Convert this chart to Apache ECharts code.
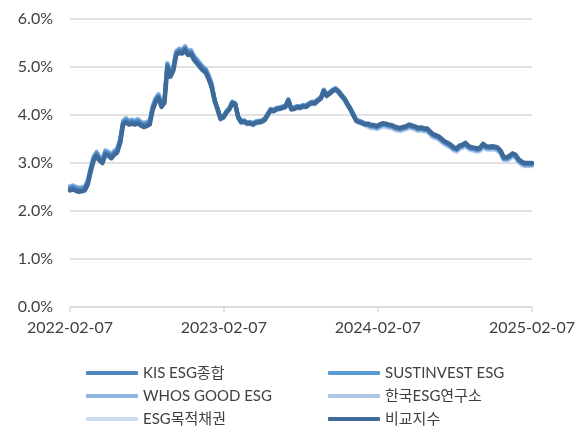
<!DOCTYPE html>
<html>
<head>
<meta charset="utf-8">
<title>ESG chart</title>
<script src="https://cdn.jsdelivr.net/npm/echarts@6/dist/echarts.min.js"></script>
<style>
    html, body { margin: 0; padding: 0; background: #ffffff; }
    #chart { width: 586px; height: 432px; }
</style>
</head>
<body>
<div id="chart"></div>
<script>
    "use strict";

    var startDate = [2022, 1, 7];
    var endDate = [2025, 1, 7];
    var tickDates = ["2022-02-07", "2023-02-07", "2024-02-07", "2025-02-07"];

    var seriesNames = ["KIS ESG종합", "SUSTINVEST ESG", "WHOS GOOD ESG", "한국ESG연구소", "ESG목적채권", "비교지수"];
    var seriesColors = ["#4f86c0", "#5b9bd5", "#8fb4e0", "#afc7e8", "#cbdaef", "#3d6a99"];

    // weekly values (%), last one is 2025-02-07
    var kis = [
        2.47,2.49,2.46,2.44,2.45,2.47,2.59,2.86,3.09,3.19,
        3.09,3.04,3.22,3.19,3.14,3.21,3.26,3.46,3.84,3.89,
        3.84,3.86,3.84,3.87,3.82,3.79,3.81,3.84,4.14,4.31,
        4.39,4.21,4.29,5.04,4.84,4.96,5.29,5.34,5.32,5.39,
        5.29,5.31,5.19,5.12,5.04,4.97,4.92,4.79,4.62,4.31,
        4.13,3.93,3.96,4.06,4.13,4.26,4.23,3.96,3.86,3.87,
        3.83,3.84,3.81,3.85,3.86,3.87,3.91,4.01,4.11,4.09,
        4.13,4.14,4.16,4.18,4.31,4.13,4.14,4.17,4.16,4.19,
        4.18,4.23,4.26,4.25,4.31,4.35,4.51,4.41,4.46,4.51,
        4.54,4.49,4.41,4.34,4.23,4.13,4.01,3.89,3.86,3.84,
        3.81,3.80,3.77,3.77,3.75,3.78,3.81,3.80,3.78,3.77,
        3.74,3.72,3.71,3.73,3.75,3.78,3.76,3.74,3.71,3.72,
        3.70,3.70,3.64,3.58,3.56,3.53,3.48,3.43,3.40,3.36,
        3.31,3.28,3.34,3.36,3.40,3.34,3.31,3.30,3.28,3.30,
        3.38,3.33,3.32,3.33,3.32,3.30,3.23,3.10,3.10,3.13,
        3.18,3.15,3.06,3.01,2.98,2.98,2.98,2.98
    ];
    var sustinvest = [
        2.49,2.51,2.48,2.46,2.47,2.49,2.61,2.88,3.11,3.21,
        3.11,3.06,3.24,3.21,3.16,3.23,3.28,3.48,3.86,3.91,
        3.86,3.88,3.86,3.89,3.84,3.81,3.83,3.86,4.16,4.33,
        4.41,4.23,4.31,5.06,4.86,4.98,5.31,5.36,5.34,5.41,
        5.31,5.33,5.21,5.14,5.06,4.99,4.94,4.81,4.64,4.33,
        4.15,3.95,3.98,4.08,4.15,4.28,4.25,3.98,3.88,3.89,
        3.85,3.86,3.83,3.87,3.88,3.89,3.93,4.03,4.13,4.11,
        4.15,4.16,4.18,4.20,4.33,4.15,4.16,4.19,4.18,4.21,
        4.20,4.25,4.28,4.27,4.33,4.37,4.53,4.43,4.48,4.53,
        4.56,4.51,4.43,4.36,4.25,4.15,4.03,3.91,3.88,3.86,
        3.83,3.79,3.76,3.76,3.74,3.77,3.80,3.79,3.77,3.76,
        3.73,3.71,3.70,3.72,3.74,3.77,3.75,3.73,3.70,3.71,
        3.69,3.69,3.63,3.57,3.55,3.52,3.47,3.42,3.39,3.35,
        3.30,3.27,3.33,3.35,3.39,3.33,3.30,3.29,3.27,3.29,
        3.37,3.32,3.31,3.32,3.31,3.29,3.22,3.09,3.09,3.12,
        3.17,3.14,3.05,3.00,2.97,2.97,2.97,2.97
    ];
    var whosGood = [
        2.51,2.53,2.50,2.48,2.49,2.51,2.63,2.90,3.13,3.23,
        3.13,3.08,3.26,3.23,3.18,3.25,3.30,3.50,3.88,3.93,
        3.88,3.90,3.88,3.91,3.86,3.83,3.85,3.88,4.18,4.35,
        4.43,4.25,4.33,5.08,4.88,5.00,5.33,5.38,5.36,5.43,
        5.33,5.35,5.23,5.16,5.08,5.01,4.96,4.83,4.66,4.32,
        4.14,3.94,3.97,4.07,4.14,4.27,4.24,3.97,3.87,3.88,
        3.84,3.85,3.82,3.86,3.87,3.88,3.92,4.02,4.12,4.10,
        4.14,4.15,4.17,4.19,4.32,4.14,4.15,4.18,4.17,4.20,
        4.19,4.24,4.27,4.26,4.32,4.36,4.52,4.42,4.47,4.52,
        4.55,4.50,4.42,4.35,4.24,4.14,4.02,3.90,3.87,3.85,
        3.82,3.78,3.75,3.75,3.73,3.76,3.79,3.78,3.76,3.75,
        3.72,3.70,3.69,3.71,3.73,3.76,3.74,3.72,3.69,3.70,
        3.68,3.68,3.62,3.56,3.54,3.51,3.46,3.41,3.38,3.34,
        3.29,3.26,3.32,3.34,3.38,3.32,3.29,3.28,3.26,3.28,
        3.36,3.31,3.30,3.31,3.30,3.28,3.21,3.08,3.08,3.11,
        3.16,3.13,3.04,2.99,2.96,2.96,2.96,2.96
    ];
    var koreaEsg = [
        2.52,2.54,2.51,2.49,2.50,2.52,2.64,2.91,3.14,3.24,
        3.14,3.09,3.27,3.24,3.19,3.26,3.31,3.51,3.89,3.94,
        3.89,3.91,3.89,3.92,3.87,3.84,3.86,3.89,4.19,4.36,
        4.44,4.26,4.34,5.09,4.89,5.01,5.34,5.39,5.37,5.44,
        5.34,5.36,5.24,5.17,5.09,5.02,4.97,4.84,4.67,4.30,
        4.12,3.92,3.95,4.05,4.12,4.25,4.22,3.95,3.85,3.86,
        3.82,3.83,3.80,3.84,3.85,3.86,3.90,4.00,4.10,4.08,
        4.12,4.13,4.15,4.17,4.30,4.12,4.13,4.16,4.15,4.18,
        4.17,4.22,4.25,4.24,4.30,4.34,4.50,4.40,4.45,4.50,
        4.53,4.48,4.40,4.33,4.22,4.12,4.00,3.88,3.85,3.83,
        3.80,3.76,3.73,3.73,3.71,3.74,3.77,3.76,3.74,3.73,
        3.70,3.68,3.67,3.69,3.71,3.74,3.72,3.70,3.67,3.68,
        3.66,3.66,3.60,3.54,3.52,3.49,3.44,3.39,3.36,3.32,
        3.27,3.24,3.30,3.32,3.36,3.30,3.27,3.26,3.24,3.26,
        3.34,3.29,3.28,3.29,3.28,3.26,3.19,3.06,3.06,3.09,
        3.14,3.11,3.02,2.97,2.94,2.94,2.94,2.94
    ];
    var esgBond = [
        2.50,2.52,2.49,2.47,2.48,2.50,2.62,2.89,3.12,3.22,
        3.12,3.07,3.25,3.22,3.17,3.24,3.29,3.49,3.87,3.92,
        3.87,3.89,3.87,3.90,3.85,3.82,3.84,3.87,4.17,4.34,
        4.42,4.24,4.32,5.07,4.87,4.99,5.32,5.37,5.35,5.42,
        5.32,5.34,5.22,5.15,5.07,5.00,4.95,4.82,4.65,4.28,
        4.10,3.90,3.93,4.03,4.10,4.23,4.20,3.93,3.83,3.84,
        3.80,3.81,3.78,3.82,3.83,3.84,3.88,3.98,4.08,4.06,
        4.10,4.11,4.13,4.15,4.28,4.10,4.11,4.14,4.13,4.16,
        4.15,4.20,4.23,4.22,4.28,4.32,4.48,4.38,4.43,4.48,
        4.51,4.46,4.38,4.31,4.20,4.10,3.98,3.86,3.83,3.81,
        3.78,3.75,3.72,3.72,3.70,3.73,3.76,3.75,3.73,3.72,
        3.69,3.67,3.66,3.68,3.70,3.73,3.71,3.69,3.66,3.67,
        3.65,3.65,3.59,3.53,3.51,3.48,3.43,3.38,3.35,3.31,
        3.26,3.23,3.29,3.31,3.35,3.29,3.26,3.25,3.23,3.25,
        3.33,3.28,3.27,3.28,3.27,3.25,3.18,3.05,3.05,3.08,
        3.13,3.10,3.01,2.96,2.93,2.93,2.93,2.93
    ];
    var benchmark = [
        2.43,2.45,2.42,2.40,2.41,2.43,2.55,2.82,3.05,3.15,
        3.05,3.00,3.18,3.15,3.10,3.17,3.22,3.42,3.80,3.85,
        3.80,3.82,3.80,3.83,3.78,3.75,3.77,3.80,4.10,4.27,
        4.35,4.17,4.25,5.00,4.80,4.92,5.25,5.30,5.28,5.35,
        5.25,5.27,5.15,5.08,5.00,4.93,4.88,4.75,4.58,4.30,
        4.12,3.92,3.95,4.05,4.12,4.25,4.22,3.95,3.85,3.86,
        3.82,3.83,3.80,3.84,3.85,3.86,3.90,4.00,4.10,4.08,
        4.12,4.13,4.15,4.17,4.30,4.12,4.13,4.16,4.15,4.18,
        4.17,4.22,4.25,4.24,4.30,4.34,4.50,4.40,4.45,4.50,
        4.53,4.48,4.40,4.33,4.22,4.12,4.00,3.88,3.85,3.83,
        3.80,3.82,3.79,3.79,3.77,3.80,3.83,3.82,3.80,3.79,
        3.76,3.74,3.73,3.75,3.77,3.80,3.78,3.76,3.73,3.74,
        3.72,3.72,3.66,3.60,3.58,3.55,3.50,3.45,3.42,3.38,
        3.33,3.30,3.36,3.38,3.42,3.36,3.33,3.32,3.30,3.32,
        3.40,3.35,3.34,3.35,3.34,3.32,3.25,3.12,3.12,3.15,
        3.20,3.17,3.08,3.03,3.00,3.00,3.00,3.00
    ];

    var seriesValues = [kis, sustinvest, whosGood, koreaEsg, esgBond, benchmark];

    function toTime(parts) {
        return new Date(parts[0], parts[1], parts[2]).getTime();
    }
    function parseDay(text) {
        var p = text.split("-");
        return new Date(+p[0], +p[1] - 1, +p[2]).getTime();
    }
    function pad(n) {
        return n < 10 ? "0" + n : "" + n;
    }

    // weekly dates from the start, the last point sits on the end date
    var dates = [];
    for (var i = 0; i < benchmark.length - 1; i++) {
        dates.push(new Date(startDate[0], startDate[1], startDate[2] + i * 7).getTime());
    }
    dates.push(toTime(endDate));

    var fontFamily = "Lato, 'Noto Sans CJK KR', sans-serif";
    var textColor = "#404040";
    var tickValues = tickDates.map(parseDay);

    // draw the light lines first, the benchmark last (on top)
    var drawOrder = [4, 3, 2, 1, 0, 5];
    var series = drawOrder.map(function (k) {
        return {
            name: seriesNames[k],
            type: "line",
            symbol: "none",
            animation: false,
            color: seriesColors[k],
            lineStyle: { width: k === 5 ? 4.5 : 4, color: seriesColors[k], cap: "round", join: "round" },
            data: dates.map(function (d, j) {
                return [d, seriesValues[k][j]];
            })
        };
    });

    var legendBase = {
        orient: "vertical",
        top: 365,
        padding: 0,
        itemWidth: 52,
        itemHeight: 4,
        itemGap: 7,
        icon: "roundRect",
        textStyle: { fontFamily: fontFamily, fontSize: 15, color: textColor, lineHeight: 16 },
        selectedMode: false
    };

    var chart = echarts.init(document.getElementById("chart"), null, { renderer: "canvas" });
    chart.setOption({
        backgroundColor: "#ffffff",
        animation: false,
        grid: { left: 70, right: 54, top: 19, bottom: 125 },
        legend: [
            Object.assign({}, legendBase, { left: 86, data: [seriesNames[0], seriesNames[2], seriesNames[4]] }),
            Object.assign({}, legendBase, { left: 328, data: [seriesNames[1], seriesNames[3], seriesNames[5]] })
        ],
        xAxis: {
            type: "value",
            min: toTime(startDate),
            max: toTime(endDate),
            axisLine: { lineStyle: { color: "#d9d9d9", width: 1.5 } },
            axisTick: {
                show: true,
                length: 5,
                customValues: tickValues,
                lineStyle: { color: "#d9d9d9", width: 1.5 }
            },
            splitLine: { show: false },
            axisLabel: {
                customValues: tickValues,
                margin: 13,
                fontFamily: fontFamily,
                fontSize: 16,
                color: textColor,
                hideOverlap: false,
                formatter: function (value) {
                    var d = new Date(value);
                    return d.getFullYear() + "-" + pad(d.getMonth() + 1) + "-" + pad(d.getDate());
                }
            }
        },
        yAxis: {
            type: "value",
            min: 0,
            max: 6,
            interval: 1,
            axisLine: { show: false },
            axisTick: { show: false },
            splitLine: { lineStyle: { color: "#d9d9d9", width: 1.5 } },
            axisLabel: {
                margin: 17,
                fontFamily: fontFamily,
                fontSize: 16,
                color: textColor,
                formatter: function (value) {
                    return value.toFixed(1) + "%";
                }
            }
        },
        series: series
    });
</script>
</body>
</html>
